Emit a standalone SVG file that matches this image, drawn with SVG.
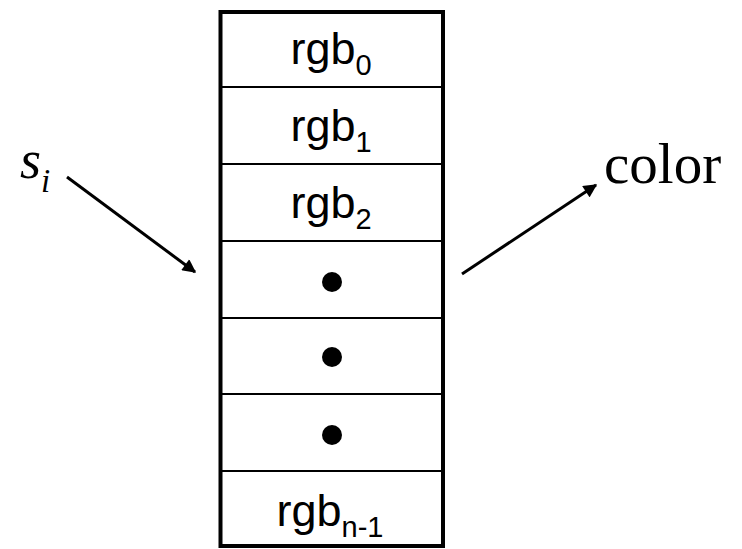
<svg xmlns="http://www.w3.org/2000/svg" width="742" height="549" viewBox="0 0 742 549">
<style>
.lbl{font-family:"Liberation Sans",Arial,sans-serif;font-size:45px;fill:#000}
.sub{font-size:29px}
.div{stroke:#000;stroke-width:2;fill:none}
.conn{stroke:#000;stroke-width:3;fill:none}
.serif{font-family:"Liberation Serif","Times New Roman",serif;fill:#000}
</style>
<defs>
<marker id="ah" viewBox="0 0 10 10" refX="9" refY="5" markerWidth="5" markerHeight="4.5" orient="auto" markerUnits="strokeWidth">
<path d="M0,0 L10,5 L0,10 Z" fill="#000"/>
</marker>
</defs>
<rect width="742" height="549" fill="#fff"/>
<g id="table">
<rect x="220.5" y="12" width="222.5" height="534" fill="#fff" stroke="#000" stroke-width="4"/>
<line class="div" x1="220.5" y1="87" x2="443" y2="87"/>
<line class="div" x1="220.5" y1="164" x2="443" y2="164"/>
<line class="div" x1="220.5" y1="241" x2="443" y2="241"/>
<line class="div" x1="220.5" y1="318" x2="443" y2="318"/>
<line class="div" x1="220.5" y1="394" x2="443" y2="394"/>
<line class="div" x1="220.5" y1="471" x2="443" y2="471"/>
</g>
<g id="row0"><text class="lbl" x="331" y="64" text-anchor="middle">rgb<tspan class="sub" dy="11">0</tspan></text></g>
<g id="row1"><text class="lbl" x="331" y="141" text-anchor="middle">rgb<tspan class="sub" dy="11">1</tspan></text></g>
<g id="row2"><text class="lbl" x="331" y="218" text-anchor="middle">rgb<tspan class="sub" dy="11">2</tspan></text></g>
<g id="row3"><circle cx="332" cy="282" r="10" fill="#000"/></g>
<g id="row4"><circle cx="332" cy="357" r="10" fill="#000"/></g>
<g id="row5"><circle cx="332" cy="435" r="10" fill="#000"/></g>
<g id="row6"><text class="lbl" x="330" y="526" text-anchor="middle">rgb<tspan class="sub" dy="11">n-1</tspan></text></g>
<g id="si"><text class="serif" x="20" y="178" font-size="54" font-style="italic">s<tspan font-size="33" dy="14">i</tspan></text></g>
<g id="color"><text class="serif" x="604" y="183" font-size="57">color</text></g>
<g id="connectors">
<line class="conn" x1="67" y1="177" x2="195" y2="272" marker-end="url(#ah)"/>
<line class="conn" x1="462" y1="274" x2="596" y2="185" marker-end="url(#ah)"/>
</g>
</svg>
